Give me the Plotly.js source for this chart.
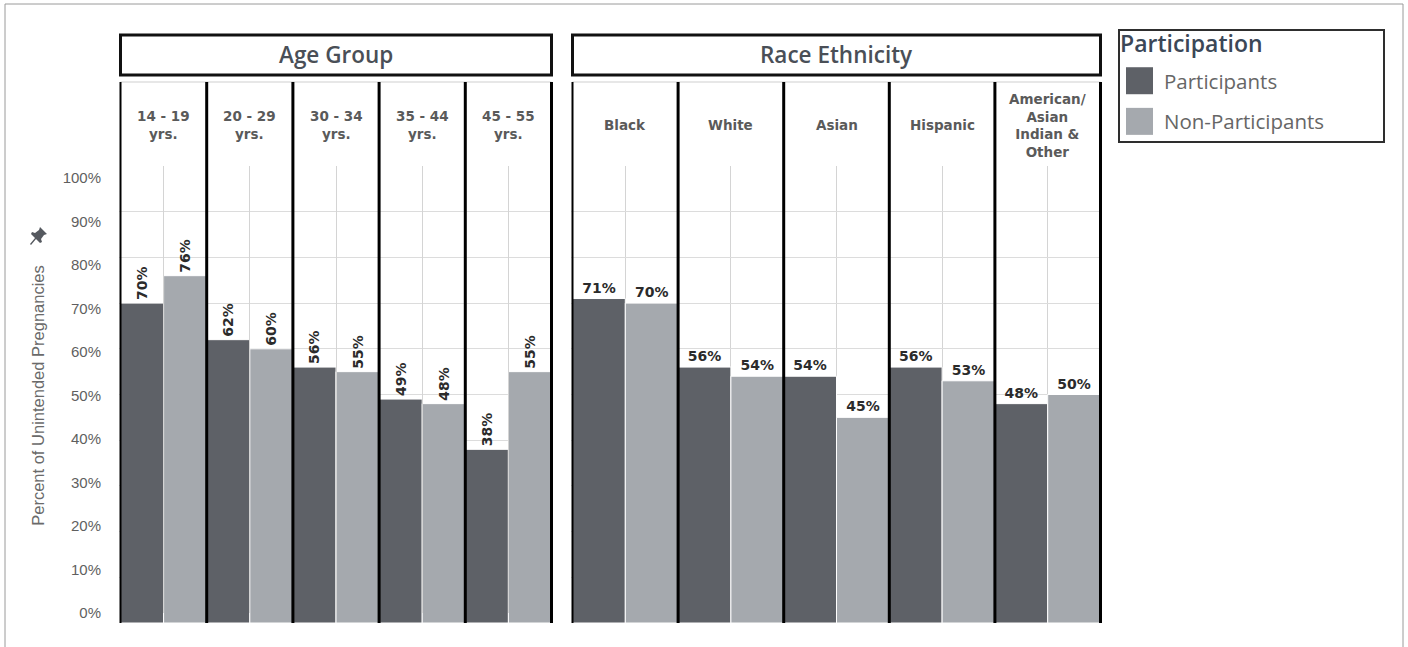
<!DOCTYPE html>
<html>
<head>
<meta charset="utf-8">
<script src="https://cdn.plot.ly/plotly-3.0.1.min.js"></script>
<style>
  html, body { margin: 0; padding: 0; background: #fff; }
  #chart { width: 1408px; height: 647px; }
</style>
</head>
<body>
<div id="chart"></div>
<script>
// ---- Data ----
const ageCategories = ['14 - 19<br>yrs.', '20 - 29<br>yrs.', '30 - 34<br>yrs.', '35 - 44<br>yrs.', '45 - 55<br>yrs.'];
const ageParticipants = [70, 62, 56, 49, 38];
const ageNonParticipants = [76, 60, 55, 48, 55];

const raceCategories = ['Black', 'White', 'Asian', 'Hispanic', 'American/<br>Asian<br>Indian &<br>Other'];
const raceParticipants = [71, 56, 54, 56, 48];
const raceNonParticipants = [70, 54, 45, 53, 50];

const panelTitles = ['Age Group', 'Race Ethnicity'];
const seriesNames = ['Participants', 'Non-Participants'];
const yTickVals = [0, 10, 20, 30, 40, 50, 60, 70, 80, 90, 100];
const yTickText = ['0%', '10%', '20%', '30%', '40%', '50%', '60%', '70%', '80%', '90%', '100%'];
const yTitle = 'Percent of Unintended Pregnancies';
const legendTitle = 'Participation';

// ---- Styling ----
const W = 1408, H = 647;
const M = { l: 119, r: 306, t: 166, b: 24 };
const PW = W - M.l - M.r, PH = H - M.t - M.b;
const px = v => (v - M.l) / PW;          // pixel x -> paper x
const py = v => (H - M.b - v) / PH;      // pixel y -> paper y

const colDark = '#5e6167';
const colLight = '#a5a9ae';
const barLabelFont = { family: 'DejaVu Sans', size: 14, color: '#2b2b2b', weight: 'bold' };

function barTrace(name, cats, vals, color, xa, ya, angle, show) {
  return {
    type: 'bar', name: name, x: cats, y: vals, xaxis: xa, yaxis: ya,
    marker: { color: color, line: { color: '#ffffff', width: 1 } },
    texttemplate: '%{y}%', textposition: 'outside', textangle: angle,
    textfont: barLabelFont, cliponaxis: false, constraintext: 'none',
    legendgroup: name, showlegend: show, hoverinfo: 'x+y'
  };
}

const traces = [
  barTrace(seriesNames[0], ageCategories, ageParticipants, colDark, 'x', 'y', -90, true),
  barTrace(seriesNames[1], ageCategories, ageNonParticipants, colLight, 'x', 'y', -90, true),
  barTrace(seriesNames[0], raceCategories, raceParticipants, colDark, 'x2', 'y2', 0, false),
  barTrace(seriesNames[1], raceCategories, raceNonParticipants, colLight, 'x2', 'y2', 0, false),
  { type: 'scatter', x: [], y: [], xaxis: 'x', yaxis: 'y3', showlegend: false, hoverinfo: 'skip' }
];

const xCommon = {
  type: 'category', showticklabels: false, ticks: '', showgrid: true,
  gridcolor: '#d4d4d4', gridwidth: 1, zeroline: false, showline: false, fixedrange: true
};
const yCommon = {
  range: [0, 100], tickvals: yTickVals, showticklabels: false, ticks: '',
  showgrid: true, gridcolor: '#dcdcdc', gridwidth: 1, zeroline: false, showline: false, fixedrange: true
};

const shapes = [];
const annotations = [];

function panel(xref, cats, title) {
  const n = cats.length;
  const lo = -0.5, hi = n - 0.5;
  shapes.push({ type: 'rect', xref: xref, yref: 'paper', x0: lo, x1: hi, y0: py(75), y1: py(35),
    line: { color: '#111', width: 3 }, fillcolor: 'rgba(0,0,0,0)', layer: 'above' });
  annotations.push({ xref: xref, yref: 'paper', x: (lo + hi) / 2, y: py(55), text: title, showarrow: false,
    xanchor: 'center', yanchor: 'middle',
    font: { family: 'Open Sans', size: 22.5, color: '#4a4f57', weight: 600 } });
  shapes.push({ type: 'line', xref: xref, yref: 'paper', x0: lo, x1: hi, y0: py(82), y1: py(82),
    line: { color: '#cfcfcf', width: 1 }, layer: 'below' });
  for (let i = 0; i <= n; i++) {
    shapes.push({ type: 'line', xref: xref, yref: 'paper', x0: i - 0.5, x1: i - 0.5, y0: 0, y1: py(82),
      line: { color: '#000', width: i === 0 ? 2 : 3 }, layer: 'above' });
  }
  cats.forEach(c => {
    annotations.push({ xref: xref, yref: 'paper', x: c, y: py(125), text: c, showarrow: false,
      xanchor: 'center', yanchor: 'middle', align: 'center',
      font: { family: 'DejaVu Sans', size: 13.5, color: '#5a5a5a', weight: 'bold' } });
  });
}
panel('x', ageCategories, panelTitles[0]);
panel('x2', raceCategories, panelTitles[1]);

// legend frame
shapes.push({ type: 'rect', xref: 'paper', yref: 'paper', x0: px(1119), x1: px(1384), y0: py(142), y1: py(30),
  line: { color: '#2e2e2e', width: 2 }, fillcolor: 'rgba(0,0,0,0)' });
// outer frame (top, left, right)
shapes.push({ type: 'path', xref: 'paper', yref: 'paper',
  path: 'M ' + px(5) + ',' + py(660) + ' L ' + px(5) + ',' + py(4) + ' L ' + px(1403) + ',' + py(4) + ' L ' + px(1403) + ',' + py(660),
  line: { color: '#9a9a9a', width: 1 } });
// pin icon next to the axis title
const pinPts = [[40, 227], [47, 234], [44, 235], [41, 239], [42, 242], [40, 243], [36, 239], [31, 245], [30, 244], [35, 238], [31, 234], [32, 232], [35, 233], [39, 230]];
shapes.push({ type: 'path', xref: 'paper', yref: 'paper',
  path: 'M ' + pinPts.map(p => px(p[0]) + ',' + py(p[1])).join(' L ') + ' Z',
  fillcolor: '#55595f', line: { width: 0 } });

const layout = {
  width: W, height: H,
  margin: M,
  paper_bgcolor: '#ffffff', plot_bgcolor: 'rgba(0,0,0,0)',
  barmode: 'group', bargap: 0, bargroupgap: 0,
  showlegend: true,
  font: { family: 'Liberation Sans', color: '#555' },
  xaxis: Object.assign({}, xCommon, { domain: [0, px(553)], anchor: 'y' }),
  xaxis2: Object.assign({}, xCommon, { domain: [px(571), 1], anchor: 'y2' }),
  yaxis: Object.assign({}, yCommon, { domain: [0, 1], anchor: 'x' }),
  yaxis2: Object.assign({}, yCommon, { domain: [0, 1], anchor: 'x2', matches: 'y' }),
  yaxis3: {
    range: [0, 100], tickmode: 'array', tickvals: yTickVals, ticktext: yTickText, anchor: 'free', position: 0,
    domain: [py(613), py(178)], showgrid: false, zeroline: false, showline: false,
    ticks: 'outside', ticklen: 15, tickcolor: 'rgba(0,0,0,0)', fixedrange: true,
    tickfont: { family: 'Liberation Sans', size: 15, color: '#5f5f5f' },
    title: { text: yTitle, standoff: 12, font: { family: 'Liberation Sans', size: 16.5, color: '#6a6a6a' } }
  },
  legend: {
    x: px(1115), y: py(31), xanchor: 'left', yanchor: 'top',
    bgcolor: 'rgba(0,0,0,0)', borderwidth: 0,
    itemwidth: 39, tracegroupgap: 11, traceorder: 'grouped',
    font: { family: 'Open Sans', size: 20.5, color: '#666' },
    title: { text: legendTitle, font: { family: 'Open Sans', size: 23, color: '#3b4757', weight: 600 } }
  },
  shapes: shapes,
  annotations: annotations
};

Plotly.newPlot('chart', traces, layout, { displayModeBar: false, staticPlot: true }).then(gd => {
  const leg = gd.querySelector('.legend');
  if (!leg) return;
  leg.querySelectorAll('[clip-path]').forEach(e => e.removeAttribute('clip-path'));
  leg.querySelectorAll('.traces').forEach(tr => {
    const t = tr.querySelector('.legendtext');
    const p = tr.querySelector('.legendpoints path');
    if (!t || !p) return;
    const tb = t.getBoundingClientRect();
    p.removeAttribute('transform');
    const m = p.getScreenCTM().inverse();
    const pt = new DOMPoint(tb.left - 11, tb.top + tb.height / 2).matrixTransform(m);
    p.setAttribute('d', 'M' + pt.x + ',' + (pt.y - 13.5) + 'H' + (pt.x - 27) + 'V' + (pt.y + 13.5) + 'H' + pt.x + 'Z');
    p.style.strokeWidth = '0px';
  });
  const tt = leg.querySelector('.legendtitletext');
  if (tt) tt.setAttribute('transform', ((tt.getAttribute('transform') || '') + ' translate(3,-9)').trim());
});
</script>
</body>
</html>
